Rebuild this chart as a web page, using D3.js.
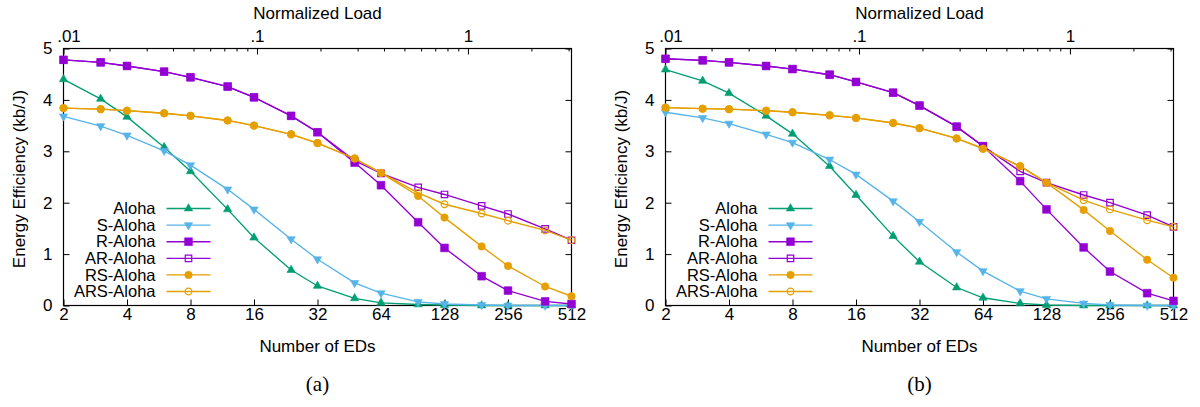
<!DOCTYPE html>
<html>
<head>
<meta charset="utf-8">
<script src="https://cdn.jsdelivr.net/npm/d3@7"></script>
<style>
  html, body { margin: 0; padding: 0; background: #fff; }
  text { font-family: "Liberation Sans", Arial, Helvetica, sans-serif; }
</style>
</head>
<body>
<div id="chart"></div>
<script>
// number of end devices (x positions of every point)
const nodes = [2, 3, 4, 6, 8, 12, 16, 24, 32, 48, 64, 96, 128, 192, 256, 384, 512];
const xTicks = [2, 4, 8, 16, 32, 64, 128, 256, 512];
const yTicks = [0, 1, 2, 3, 4, 5];
const topTickLabels = ['.01', '.1', '1'];
const topTickValues = [null, 0.1, 1]; // null = left edge of the load axis
const topMinorTicks = [0.02, 0.03, 0.04, 0.05, 0.06, 0.07, 0.08, 0.09,
                       0.2, 0.3, 0.4, 0.5, 0.6, 0.7, 0.8, 0.9, 2, 3];
const loadPerNode = 0.00605;

const seriesNames = ['Aloha', 'S-Aloha', 'R-Aloha', 'AR-Aloha', 'RS-Aloha', 'ARS-Aloha'];

// panel (a)
const alohaA    = [4.40, 4.02, 3.67, 3.08, 2.61, 1.87, 1.32, 0.69, 0.38, 0.14, 0.05, 0.02, 0.01, 0, 0, 0, 0];
const sAlohaA   = [3.68, 3.49, 3.31, 3.01, 2.73, 2.26, 1.87, 1.29, 0.90, 0.44, 0.24, 0.07, 0.03, 0.01, 0, 0, 0];
const rAlohaA   = [4.78, 4.73, 4.66, 4.55, 4.44, 4.26, 4.05, 3.69, 3.37, 2.78, 2.34, 1.62, 1.12, 0.57, 0.29, 0.08, 0.03];
const arAlohaA  = [4.78, 4.73, 4.66, 4.55, 4.44, 4.26, 4.05, 3.69, 3.37, 2.82, 2.57, 2.30, 2.16, 1.94, 1.78, 1.49, 1.27];
const rsAlohaA  = [3.84, 3.82, 3.79, 3.74, 3.69, 3.60, 3.50, 3.33, 3.16, 2.86, 2.58, 2.13, 1.71, 1.15, 0.77, 0.37, 0.18];
const arsAlohaA = [3.84, 3.82, 3.79, 3.74, 3.69, 3.60, 3.50, 3.33, 3.16, 2.86, 2.58, 2.19, 1.97, 1.79, 1.65, 1.46, 1.27];

// panel (b)
const alohaB    = [4.59, 4.37, 4.13, 3.69, 3.34, 2.71, 2.15, 1.35, 0.85, 0.35, 0.15, 0.04, 0.01, 0, 0, 0, 0];
const sAlohaB   = [3.76, 3.65, 3.54, 3.33, 3.17, 2.84, 2.55, 2.03, 1.63, 1.04, 0.67, 0.28, 0.13, 0.04, 0.01, 0, 0];
const rAlohaB   = [4.80, 4.77, 4.73, 4.66, 4.60, 4.49, 4.35, 4.14, 3.89, 3.48, 3.10, 2.42, 1.87, 1.13, 0.66, 0.24, 0.09];
const arAlohaB  = [4.80, 4.77, 4.73, 4.66, 4.60, 4.49, 4.35, 4.14, 3.89, 3.48, 3.10, 2.61, 2.39, 2.15, 2.00, 1.76, 1.53];
const rsAlohaB  = [3.85, 3.83, 3.82, 3.79, 3.76, 3.70, 3.65, 3.55, 3.45, 3.25, 3.05, 2.71, 2.39, 1.86, 1.45, 0.89, 0.54];
const arsAlohaB = [3.85, 3.83, 3.82, 3.79, 3.76, 3.70, 3.65, 3.55, 3.45, 3.25, 3.05, 2.71, 2.39, 2.05, 1.87, 1.66, 1.53];

// styles
const colors = ['#009e73', '#56b4e9', '#9400d3', '#9400d3', '#e69f00', '#e69f00'];
const markers = [
    { type: d3.symbolTriangle, size: 30, fill: true, rotate: 0 },
    { type: d3.symbolTriangle, size: 30, fill: true, rotate: 180 },
    { type: d3.symbolSquare, size: 60, fill: true, rotate: 0 },
    { type: d3.symbolSquare, size: 42, fill: false, rotate: 0 },
    { type: d3.symbolCircle, size: 44, fill: true, rotate: 0 },
    { type: d3.symbolCircle, size: 36, fill: false, rotate: 0 }
];
const fontSize = 17;
const legendFontSize = 16.5;

const W = 1200, H = 407;
const plotW = 508;
const plotTop = 48.5, plotBottom = 305.5;

const svg = d3.select('#chart').append('svg')
    .attr('width', W)
    .attr('height', H);

svg.append('rect').attr('width', W).attr('height', H).attr('fill', '#fff');

function drawPanel(left, seriesData, caption) {
    const g = svg.append('g');

    const x = d3.scaleLog().base(2).domain([2, 512]).range([left, left + plotW]);
    const y = d3.scaleLinear().domain([0, 5]).range([plotBottom, plotTop]);
    const xTop = d3.scaleLog().domain([2 * loadPerNode, 512 * loadPerNode]).range([left, left + plotW]);

    // bottom axis
    g.append('g')
        .attr('transform', `translate(0,${plotBottom})`)
        .call(d3.axisBottom(x).tickValues(xTicks).tickFormat(d3.format('d'))
            .tickSizeInner(-6).tickSizeOuter(0).tickPadding(2));

    // left / right axis
    g.append('g')
        .attr('transform', `translate(${left},0)`)
        .call(d3.axisLeft(y).tickValues(yTicks).tickFormat(d3.format('d'))
            .tickSizeInner(-6).tickSizeOuter(0).tickPadding(11));
    g.append('g')
        .attr('transform', `translate(${left + plotW},0)`)
        .call(d3.axisRight(y).tickValues(yTicks).tickFormat('')
            .tickSizeInner(-6).tickSizeOuter(0));

    // top (normalized load) axis
    const topVals = topTickValues.map(v => v === null ? xTop.domain()[0] : v);
    const topAxis = g.append('g')
        .attr('transform', `translate(0,${plotTop})`)
        .call(d3.axisTop(xTop).tickValues(topVals)
            .tickFormat((d, i) => topTickLabels[i])
            .tickSizeInner(-6).tickSizeOuter(0).tickPadding(7));
    topAxis.selectAll('.tick text').filter((d, i) => i === 0).attr('dx', 5);
    g.append('g')
        .attr('transform', `translate(0,${plotTop})`)
        .call(d3.axisTop(xTop).tickValues(topMinorTicks).tickFormat('')
            .tickSizeInner(-3).tickSizeOuter(0));

    g.selectAll('.domain').remove();
    g.selectAll('.tick text')
        .attr('font-size', fontSize)
        .attr('font-family', '"Liberation Sans", Arial, sans-serif')
        .attr('fill', '#000');
    g.selectAll('.tick line').attr('stroke', '#000');

    // frame
    g.append('rect')
        .attr('x', left).attr('y', plotTop)
        .attr('width', plotW).attr('height', plotBottom - plotTop)
        .attr('fill', 'none').attr('stroke', '#000').attr('stroke-width', 1.2);

    // axis titles
    g.append('text')
        .attr('x', left + plotW / 2).attr('y', 19)
        .attr('text-anchor', 'middle').attr('font-size', fontSize)
        .text('Normalized Load');
    g.append('text')
        .attr('x', left + plotW / 2).attr('y', 352)
        .attr('text-anchor', 'middle').attr('font-size', fontSize)
        .text('Number of EDs');
    g.append('text')
        .attr('transform', `translate(${left - 39},${(plotTop + plotBottom) / 2 + 2}) rotate(-90)`)
        .attr('text-anchor', 'middle').attr('font-size', fontSize)
        .text('Energy Efficiency (kb/J)');
    g.append('text')
        .attr('x', left + plotW / 2).attr('y', 391)
        .attr('text-anchor', 'middle').attr('font-size', 21)
        .style('font-family', '"Liberation Serif", "Times New Roman", serif')
        .text(caption);

    const line = d3.line()
        .x((d, i) => x(nodes[i]))
        .y(d => y(d));

    function drawMarker(sel, k) {
        const m = markers[k];
        sel.attr('d', d3.symbol().type(m.type).size(m.size))
            .attr('fill', m.fill ? colors[k] : 'none')
            .attr('stroke', colors[k])
            .attr('stroke-width', m.fill ? 0.6 : 1.2);
    }

    seriesData.forEach((vals, k) => {
        g.append('path')
            .datum(vals)
            .attr('fill', 'none')
            .attr('stroke', colors[k])
            .attr('stroke-width', 1.35)
            .attr('d', line);

        g.selectAll(null)
            .data(vals)
            .enter()
            .append('path')
            .attr('transform', (d, i) => `translate(${x(nodes[i])},${y(d)}) rotate(${markers[k].rotate})`)
            .call(drawMarker, k);
    });

    // legend
    const legend = g.append('g');
    seriesNames.forEach((name, k) => {
        const ly = 208.5 + k * 16.6;
        legend.append('text')
            .attr('x', left + 92).attr('y', ly)
            .attr('dy', '0.35em')
            .attr('text-anchor', 'end').attr('font-size', legendFontSize)
            .text(name);
        legend.append('line')
            .attr('x1', left + 103).attr('x2', left + 147)
            .attr('y1', ly).attr('y2', ly)
            .attr('stroke', colors[k]).attr('stroke-width', 1.35);
        legend.append('path')
            .attr('transform', `translate(${left + 125},${ly}) rotate(${markers[k].rotate})`)
            .call(drawMarker, k);
    });
}

drawPanel(63.5, [alohaA, sAlohaA, rAlohaA, arAlohaA, rsAlohaA, arsAlohaA], '(a)');
drawPanel(665.5, [alohaB, sAlohaB, rAlohaB, arAlohaB, rsAlohaB, arsAlohaB], '(b)');
</script>
</body>
</html>
